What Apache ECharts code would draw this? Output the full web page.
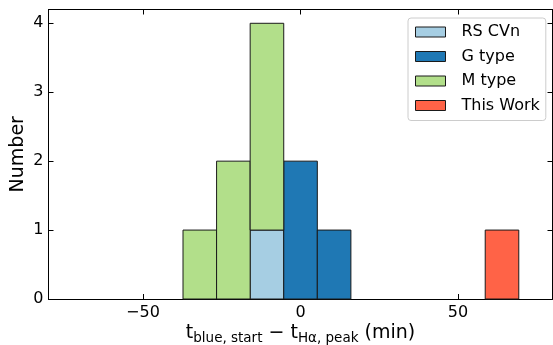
<!DOCTYPE html>
<html>
<head>
<meta charset="utf-8">
<script src="https://cdn.jsdelivr.net/npm/echarts@6/dist/echarts.min.js"></script>
<style>
  html, body { margin: 0; padding: 0; background: #fff; }
  #chart { width: 553px; height: 345px; }
</style>
</head>
<body>
<div id="chart"></div>
<script>
// Histogram bin edges (minutes) shared by all groups
const binEdges = [-37.3, -26.64, -15.98, -5.32, 5.34, 16.0, 26.66, 37.32, 47.98, 58.64, 69.3];

// Counts per bin for each group, stacked in this order
const seriesNames = ['RS CVn', 'G type', 'M type', 'This Work'];
const rsCvnCounts    = [0, 0, 1, 0, 0, 0, 0, 0, 0, 0];
const gTypeCounts    = [0, 0, 0, 2, 1, 0, 0, 0, 0, 0];
const mTypeCounts    = [1, 2, 3, 0, 0, 0, 0, 0, 0, 0];
const thisWorkCounts = [0, 0, 0, 0, 0, 0, 0, 0, 0, 1];
const seriesColors = ['#a6cee3', '#1f78b4', '#b2df8a', '#ff6347'];

const xTicks = [-50, 0, 50];
const yTicks = [0, 1, 2, 3, 4];

const allCounts = [rsCvnCounts, gTypeCounts, mTypeCounts, thisWorkCounts];

// Build stacked rectangles: [x0, x1, base, top]
function buildData(k) {
  const out = [];
  for (let i = 0; i < binEdges.length - 1; i++) {
    const c = allCounts[k][i];
    if (!c) continue;
    let base = 0;
    for (let j = 0; j < k; j++) base += allCounts[j][i];
    out.push([binEdges[i], binEdges[i + 1], base, base + c]);
  }
  return out;
}

function renderBar(params, api) {
  const p0 = api.coord([api.value(0), api.value(3)]);
  const p1 = api.coord([api.value(1), api.value(2)]);
  return {
    type: 'rect',
    shape: { x: p0[0], y: p0[1], width: p1[0] - p0[0], height: p1[1] - p0[1] },
    style: { fill: seriesColors[params.seriesIndex], stroke: '#1a1a1a', lineWidth: 1 }
  };
}

const font = 'DejaVu Sans';
const minus = v => (v < 0 ? '\u2212' + Math.abs(v) : String(v));

const chart = echarts.init(document.getElementById('chart'), null, { renderer: 'canvas' });

const baseX = {
  type: 'value', min: -80, max: 80,
  splitLine: { show: false },
  axisLine: { show: true, onZero: false, lineStyle: { color: '#000', width: 1 } },
  axisTick: { show: true, inside: true, length: 5, customValues: xTicks, lineStyle: { color: '#000' } }
};
const baseY = {
  type: 'value', min: 0, max: 4.2,
  splitLine: { show: false },
  axisLine: { show: true, onZero: false, lineStyle: { color: '#000', width: 1 } },
  axisTick: { show: true, inside: true, length: 5, customValues: yTicks, lineStyle: { color: '#000' } }
};

chart.setOption({
  animation: false,
  textStyle: { fontFamily: font },
  grid: { left: 48.5, right: 0.5, top: 9.5, bottom: 46, containLabel: false, outerBoundsMode: 'none' },
  legend: {
    orient: 'vertical',
    left: 408, top: 18,
    padding: [6, 6, 7, 7],
    itemWidth: 30, itemHeight: 10, itemGap: 8.5,
    icon: 'rect',
    borderColor: '#cccccc', borderWidth: 1, borderRadius: 3,
    backgroundColor: 'rgba(255,255,255,0.85)',
    itemStyle: { borderColor: '#1a1a1a', borderWidth: 1 },
    textStyle: { fontFamily: font, fontSize: 16, color: '#000', padding: [0, 0, 0, 11] },
    data: seriesNames
  },
  xAxis: [
    Object.assign({}, baseX, {
      position: 'bottom',
      axisLabel: { show: true, customValues: xTicks, fontSize: 16, color: '#000', margin: 6, formatter: minus },
      name: '{m|t}{s|blue, start}{m| \u2212 t}{s|H\u03b1, peak}{m| (min)}',
      nameLocation: 'middle', nameGap: 22, nameMoveOverlap: false,
      nameTextStyle: {
        rich: {
          m: { fontFamily: font, fontSize: 19, color: '#000' },
          s: { fontFamily: font, fontSize: 13.5, color: '#000', padding: [10, 0, 0, 0] }
        }
      }
    }),
    Object.assign({}, baseX, { position: 'top', axisLabel: { show: false } })
  ],
  yAxis: [
    Object.assign({}, baseY, {
      position: 'left',
      axisLabel: { show: true, customValues: yTicks, fontSize: 16, color: '#000', margin: 5 },
      name: 'Number', nameLocation: 'middle', nameGap: 21, nameMoveOverlap: false,
      nameTextStyle: { fontFamily: font, fontSize: 19, color: '#000' }
    }),
    Object.assign({}, baseY, { position: 'right', axisLabel: { show: false } })
  ],
  series: seriesNames.map((name, k) => ({
    name, type: 'custom',
    itemStyle: { color: seriesColors[k], borderColor: '#1a1a1a', borderWidth: 1 },
    renderItem: renderBar,
    encode: { x: [0, 1], y: [2, 3] },
    data: buildData(k)
  }))
});
</script>
</body>
</html>
